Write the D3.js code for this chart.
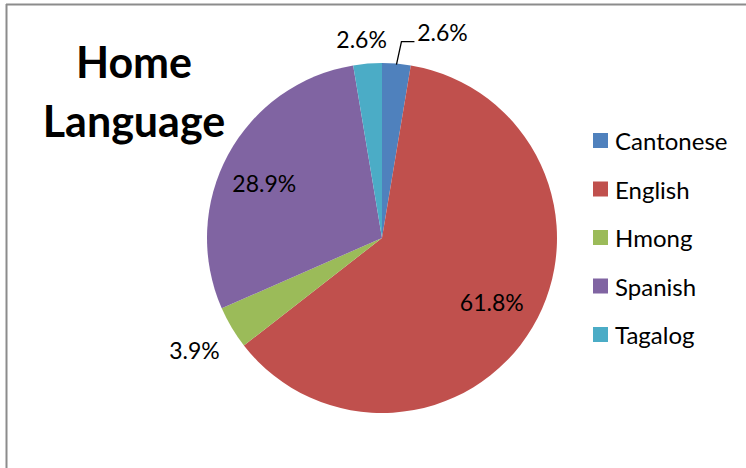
<!DOCTYPE html>
<html>
<head>
<meta charset="utf-8">
<script src="https://cdn.jsdelivr.net/npm/d3@7"></script>
<style>
  body { margin: 0; background: #fff; }
  svg text { font-family: Lato, "Open Sans", sans-serif; }
</style>
</head>
<body>
<div id="chart"></div>
<script>
// home language counts (percent labels are computed from these)
var languages = ["Cantonese", "English", "Hmong", "Spanish", "Tagalog"];
var counts = [2, 47, 3, 22, 2];
var colors = ["#4F81BD", "#C0504D", "#9BBB59", "#8064A2", "#4BACC6"];

var width = 746, height = 468;
var cx = 382, cy = 238, radius = 175;

var svg = d3.select("#chart").append("svg")
  .attr("width", width)
  .attr("height", height);

// chart frame (left and top edges visible)
svg.append("line")
  .attr("x1", 6.5).attr("y1", 4).attr("x2", 6.5).attr("y2", height)
  .attr("stroke", "#8c8c8c").attr("stroke-width", 2);
svg.append("line")
  .attr("x1", 6).attr("y1", 4.5).attr("x2", width).attr("y2", 4.5)
  .attr("stroke", "#8c8c8c").attr("stroke-width", 2);

// title
var title = svg.append("text")
  .attr("text-anchor", "middle")
  .attr("font-weight", "bold")
  .attr("font-size", 43)
  .attr("fill", "#000");
title.append("tspan").attr("x", 134).attr("y", 78).text("Home");
title.append("tspan").attr("x", 134).attr("y", 137).text("Language");

var total = d3.sum(counts);
var data = languages.map(function(d, i) {
  return {name: d, value: counts[i], color: colors[i]};
});

var pie = d3.pie()
  .sort(null)
  .value(function(d) { return d.value; });

var arc = d3.arc()
  .innerRadius(0)
  .outerRadius(radius);

var g = svg.append("g")
  .attr("transform", "translate(" + cx + "," + cy + ")");

var arcs = pie(data);

g.selectAll("path.slice")
  .data(arcs)
  .enter().append("path")
  .attr("class", "slice")
  .attr("fill", function(d) { return d.data.color; })
  .attr("d", arc);

function pct(d) {
  return (d.data.value / total * 100).toFixed(1) + "%";
}

// label positions, as offsets in radius units along the slice mid-angle
var labelDist = [1.135, 0.73, 1.267, 0.765, 1.135];
var labelShift = [[44, -7], [0, 0], [3, 0], [0, 10], [-4, 0]];

function mid(d) { return (d.startAngle + d.endAngle) / 2; }

g.selectAll("text.label")
  .data(arcs)
  .enter().append("text")
  .attr("class", "label")
  .attr("text-anchor", "middle")
  .attr("font-size", 23)
  .attr("fill", "#000")
  .attr("x", function(d, i) { return Math.sin(mid(d)) * radius * labelDist[i] + labelShift[i][0]; })
  .attr("y", function(d, i) { return -Math.cos(mid(d)) * radius * labelDist[i] + labelShift[i][1] + 8; })
  .text(pct);

// leader line for the Cantonese label
var c = arcs[0];
var ex = Math.sin(mid(c)) * radius, ey = -Math.cos(mid(c)) * radius;
g.append("path")
  .attr("fill", "none")
  .attr("stroke", "#000")
  .attr("stroke-width", 1.3)
  .attr("d", "M" + ex + "," + (ey + 1) + "L" + (ex + 5) + "," + (ey - 22) + "L" + (ex + 18) + "," + (ey - 22));

// legend
var legend = svg.append("g")
  .attr("transform", "translate(593,133)");

var item = legend.selectAll("g")
  .data(data)
  .enter().append("g")
  .attr("transform", function(d, i) { return "translate(0," + (i * 48.5) + ")"; });

item.append("rect")
  .attr("width", 15).attr("height", 15)
  .attr("fill", function(d) { return d.color; });

item.append("text")
  .attr("x", 22).attr("y", 17)
  .attr("font-size", 24)
  .attr("fill", "#000")
  .text(function(d) { return d.name; });
</script>
</body>
</html>
